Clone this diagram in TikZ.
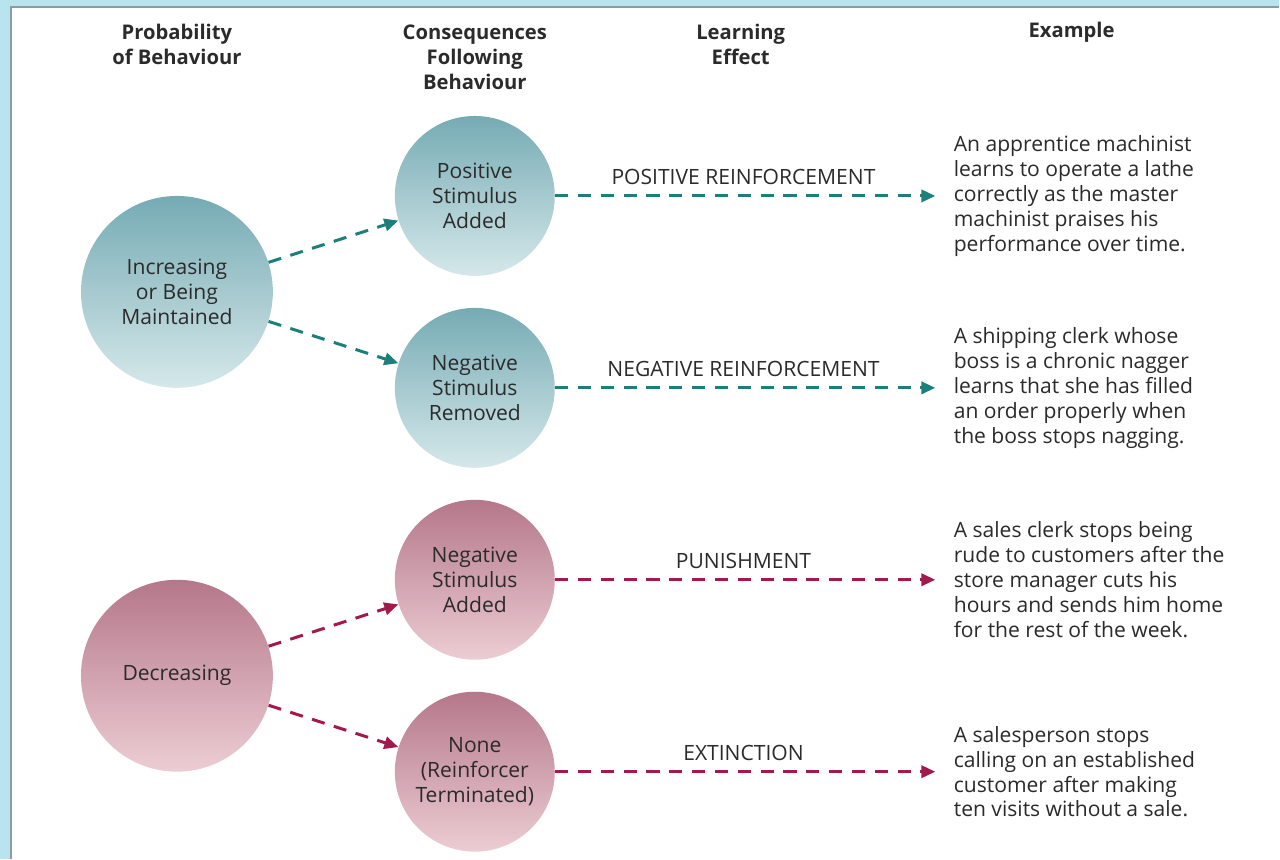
\documentclass[tikz,border=0pt]{standalone}
\usepackage{fontspec}
\setmainfont{Open Sans}
\usetikzlibrary{arrows.meta}

\definecolor{framebg}{HTML}{B9E3EF}
\definecolor{frameline}{HTML}{8C9CA2}
\definecolor{tealdark}{HTML}{1D7F7B}
\definecolor{tealtop}{HTML}{76ABB4}
\definecolor{tealbot}{HTML}{D5E8EA}
\definecolor{rosedark}{HTML}{A3194E}
\definecolor{rosetop}{HTML}{B5778B}
\definecolor{rosebot}{HTML}{ECCDD3}
\definecolor{txt}{HTML}{2B2B2B}

\begin{document}
\begin{tikzpicture}
    [x=0.02cm,y=-0.02cm,
    every node/.style={font=\fontsize{12}{14.2}\selectfont,text=txt},
    head/.style={font=\fontsize{11.5}{14.2}\selectfont\bfseries,align=center},
    big/.style={circle,minimum size=3.84cm,inner sep=0pt,align=center},
    small/.style={circle,minimum size=3.2cm,inner sep=0pt,align=center},
    tealball/.style={top color=tealtop,bottom color=tealbot},
    roseball/.style={top color=rosetop,bottom color=rosebot},
    link/.style={dash pattern=on 7.5pt off 5.5pt,line width=1.7pt,
        -{Triangle[length=8pt,width=7pt]}},
    example/.style={align=left,anchor=west}]
% frame
\fill [framebg] (0,0) rectangle (1280,859);
\fill [white] (11,7) rectangle (1280,859);
\draw [frameline,line width=0.6pt] (11,859) -- (11,7) -- (1280,7);
% column heads
\node [head] (hprob) at (177,44) {Probability\\of Behaviour};
\node [head] (hcons) at (475,57) {Consequences\\Following\\Behaviour};
\node [head] (hlearn) at (741,44) {Learning\\Effect};
\node [head] (hex) at (1072,32) {Example};
% circles
\node [big,tealball] (incr) at (177,292) {Increasing\\or Being\\Maintained};
\node [small,tealball] (posadd) at (475,196) {Positive\\Stimulus\\Added};
\node [small,tealball] (negrem) at (475,388) {Negative\\Stimulus\\Removed};
\node [big,roseball] (decr) at (177,676) {Decreasing};
\node [small,roseball] (negadd) at (475,580) {Negative\\Stimulus\\Added};
\node [small,roseball] (none) at (475,772) {None\\(Reinforcer\\Terminated)};
% examples
\node [example] (ex1) at (948,196) {An apprentice machinist\\learns to operate a lathe\\correctly as the master\\machinist praises his\\performance over time.};
\node [example] (ex2) at (948,388) {A shipping clerk whose\\boss is a chronic nagger\\learns that she has filled\\an order properly when\\the boss stops nagging.};
\node [example] (ex3) at (948,580) {A sales clerk stops being\\rude to customers after the\\store manager cuts his\\hours and sends him home\\for the rest of the week.};
\node [example] (ex4) at (948,772) {A salesperson stops\\calling on an established\\customer after making\\ten visits without a sale.};
% connectors
\draw [link,tealdark] (incr) -- (posadd);
\draw [link,tealdark] (incr) -- (negrem);
\draw [link,rosedark] (decr) -- (negadd);
\draw [link,rosedark] (decr) -- (none);
\draw [link,tealdark,shorten >=7pt] (posadd.east) -- node [above=2pt,pos=0.48] {POSITIVE REINFORCEMENT} (ex1.west);
\draw [link,tealdark,shorten >=7pt] (negrem.east) -- node [above=2pt,pos=0.48] {NEGATIVE REINFORCEMENT} (ex2.west);
\draw [link,rosedark,shorten >=7pt] (negadd.east) -- node [above=2pt,pos=0.48] {PUNISHMENT} (ex3.west);
\draw [link,rosedark,shorten >=7pt] (none.east) -- node [above=2pt,pos=0.48] {EXTINCTION} (ex4.west);
\end{tikzpicture}
\end{document}
